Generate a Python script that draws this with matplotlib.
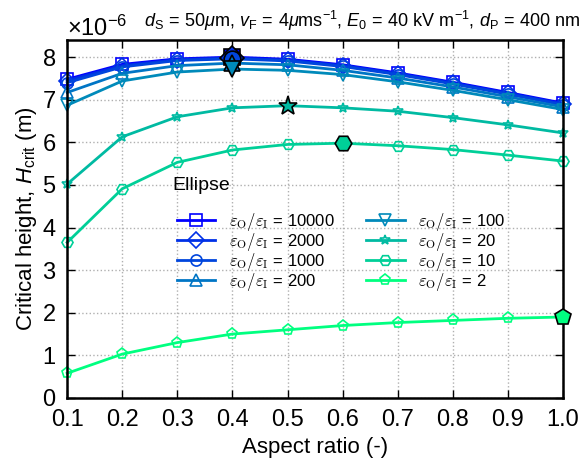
import numpy as np
import matplotlib
matplotlib.use("Agg")
import matplotlib.pyplot as plt
from matplotlib.ticker import ScalarFormatter, MultipleLocator

plt.rcParams['font.family'] = ['Liberation Sans', 'DejaVu Sans']
plt.rcParams['mathtext.fontset'] = 'custom'
plt.rcParams['mathtext.rm'] = 'Liberation Sans'
plt.rcParams['mathtext.it'] = 'Liberation Sans:italic'

aspect_ratio = [0.1, 0.2, 0.3, 0.4, 0.5, 0.6, 0.7, 0.8, 0.9, 1.0]
eps_ratio = [10000, 2000, 1000, 200, 100, 20, 10, 2]

# critical height in micrometres, one list per permittivity ratio
h_10000 = [7.48, 7.83, 7.96, 8.00, 7.95, 7.82, 7.63, 7.41, 7.17, 6.92]
h_2000 = [7.45, 7.80, 7.94, 7.98, 7.93, 7.80, 7.61, 7.39, 7.15, 6.90]
h_1000 = [7.40, 7.77, 7.92, 7.96, 7.91, 7.78, 7.59, 7.37, 7.13, 6.88]
h_200 = [7.17, 7.62, 7.80, 7.86, 7.82, 7.69, 7.51, 7.30, 7.07, 6.83]
h_100 = [6.87, 7.44, 7.65, 7.72, 7.69, 7.59, 7.42, 7.22, 7.00, 6.77]
h_20 = [5.02, 6.13, 6.60, 6.81, 6.86, 6.81, 6.73, 6.58, 6.41, 6.22]
h_10 = [3.65, 4.91, 5.53, 5.82, 5.95, 5.98, 5.92, 5.83, 5.70, 5.56]
h_2 = [0.58, 1.03, 1.30, 1.50, 1.60, 1.70, 1.77, 1.82, 1.87, 1.90]

heights = [h_10000, h_2000, h_1000, h_200, h_100, h_20, h_10, h_2]
markers = ['s', 'D', 'o', '^', 'v', '*', 'H', 'p']

logs = np.log10(eps_ratio)
shade = (logs.max() - logs) / (logs.max() - logs.min())
colors = plt.cm.winter(shade)

fig = plt.figure(figsize=(5.84, 4.66), dpi=100)
ax = fig.add_axes([0.115, 0.146, 0.849, 0.768])

x = np.array(aspect_ratio)
for h, m, c, r in zip(heights, markers, colors, eps_ratio):
    y = np.array(h) * 1e-6
    ms = 7 if m == '*' else 8
    ax.plot(x, y, color=c, lw=2, marker=m, ms=ms, mfc='none', mec=c, mew=1.2,
            label=r'$\varepsilon_\mathrm{O}/\varepsilon_\mathrm{I}$ = %d' % r, clip_on=False)
    k = int(np.argmax(y))
    ax.plot(x[k], y[k], marker=m, ms=14 if m == '*' else 12, mfc=c, mec='black',
            mew=1.2, ls='none', clip_on=False, zorder=5)

ax.set_xlim(0.1, 1.0)
ax.set_ylim(0, 8.4e-6)
ax.xaxis.set_major_locator(MultipleLocator(0.1))
ax.yaxis.set_major_locator(MultipleLocator(1e-6))
ax.set_xticklabels(['%.1f' % v for v in ax.get_xticks()])
fmt = ScalarFormatter(useMathText=True)
fmt.set_powerlimits((-3, 3))
ax.yaxis.set_major_formatter(fmt)
ax.yaxis.get_offset_text().set_fontsize(17)

ax.tick_params(direction='in', top=True, right=True, labelsize=17, length=6, width=1)
ax.tick_params(axis='x', pad=8)
ax.tick_params(axis='y', pad=8)
for s in ax.spines.values():
    s.set_linewidth(1.8)
ax.grid(True, ls=':', color='#b0b0b0', lw=1)

ax.set_xlabel('Aspect ratio (-)', fontsize=16, labelpad=4)
ax.set_ylabel(r'Critical height, $H_\mathrm{crit}$ (m)', fontsize=16, labelpad=2)

fig.text(0.993, 0.942,
         r'$d_\mathrm{S}\,=\,50\mu$m, $v_\mathrm{F}\,=\,4\mu$ms$^{-1}$, $E_0\,=\,40$ kV m$^{-1}$, $d_\mathrm{P}\,=\,400$ nm',
         ha='right', va='baseline', fontsize=13)

ax.text(0.212, 0.595, 'Ellipse', transform=ax.transAxes, fontsize=14, va='center')
ax.legend(loc='upper left', bbox_to_anchor=(0.205, 0.545), ncol=2, frameon=False,
          prop={'size': 12, 'math_fontfamily': 'cm'}, handlelength=2.3,
          columnspacing=1.9, labelspacing=-0.12, handletextpad=0.8, borderpad=0)

fig.savefig('out.png', dpi=100)
